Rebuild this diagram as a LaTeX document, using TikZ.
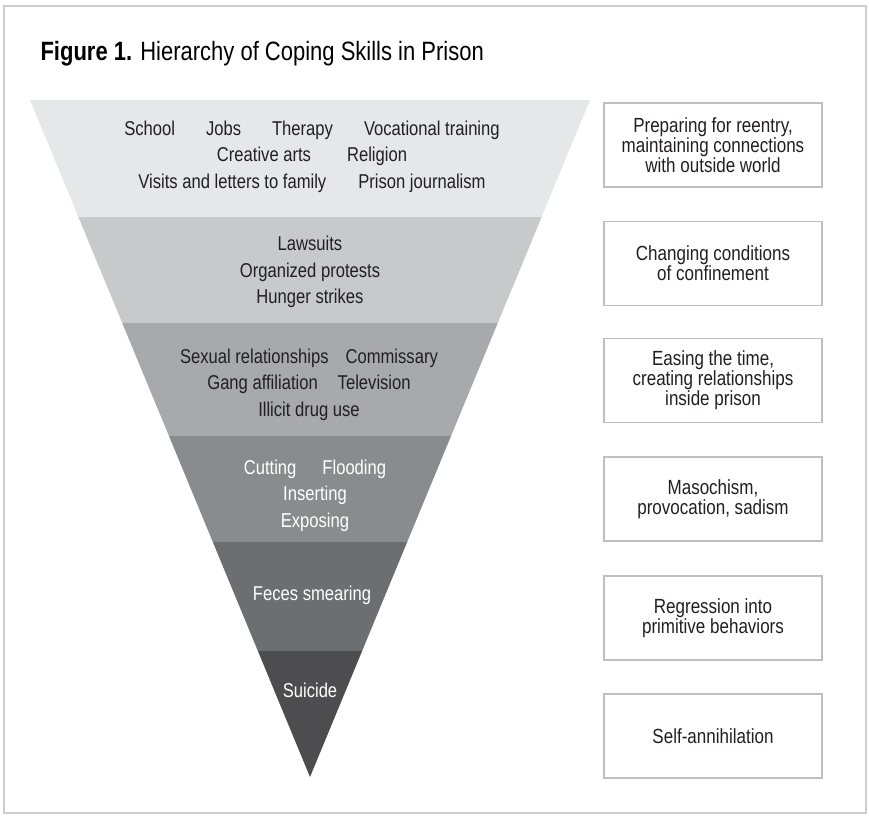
\documentclass[tikz,border=0pt]{standalone}
\usepackage{fontspec}
\setmainfont{Liberation Sans}[FakeStretch=0.83]
\definecolor{ink}{RGB}{35,31,32}
\definecolor{frame}{RGB}{205,206,207}
\definecolor{boxline}{RGB}{190,191,192}
\definecolor{bandA}{RGB}{230,231,232}
\definecolor{bandB}{RGB}{200,201,203}
\definecolor{bandC}{RGB}{167,169,172}
\definecolor{bandD}{RGB}{138,139,142}
\definecolor{bandE}{RGB}{109,110,113}
\definecolor{bandF}{RGB}{77,77,79}
\newcommand\gp[1]{\hspace{#1pt}}
\begin{document}
\begin{tikzpicture}[x=1pt,y=-1pt,
    lbl/.style={anchor=base,align=center,font=\fontsize{20}{26.5}\selectfont,text=ink},
    lblw/.style={lbl,text=white},
    reason/.style={draw=boxline,line width=1.8pt,minimum width=218pt,minimum height=84pt,
        align=center,inner sep=0pt,font=\fontsize{20.5}{20}\selectfont,text=ink}]
    \useasboundingbox (0,0) rectangle (869,816);
    \draw[frame, line width=1.5pt] (4,6) rectangle (866,813);
    \node[anchor=base west, font=\fontsize{26.5}{30}\selectfont, text=black] (title) at (37,60)
        {\textbf{Figure 1.} Hierarchy of Coping Skills in Prison};
    \begin{scope}
        \clip (30,100) -- (590,100) -- (310,777) -- cycle;
        \fill[bandA] (0,100) rectangle (869,217);
        \fill[bandB] (0,217) rectangle (869,323);
        \fill[bandC] (0,323) rectangle (869,436);
        \fill[bandD] (0,436) rectangle (869,542);
        \fill[bandE] (0,542) rectangle (869,651);
        \fill[bandF] (0,651) rectangle (869,777);
    \end{scope}
    \node[lbl] (reentry) at (312,188)
        {School\gp{31}Jobs\gp{31}Therapy\gp{31}Vocational training\\
         Creative arts\gp{36}Religion\\
         Visits and letters to family\gp{32}Prison journalism};
    \node[lbl] (protest) at (310,303.5) {Lawsuits\\Organized protests\\Hunger strikes};
    \node[lbl] (easing) at (309,416)
        {Sexual relationships\gp{17}Commissary\\Gang affiliation\gp{20}Television\\Illicit drug use};
    \node[lblw] (harm) at (315,527) {Cutting\gp{26}Flooding\\Inserting\\Exposing};
    \node[lblw] (feces) at (312,600) {Feces smearing};
    \node[lblw] (suicide) at (310,697) {Suicide};
    \node[reason] (r1) at (713,145) {Preparing for reentry,\\maintaining connections\\with outside world};
    \node[reason] (r2) at (713,263.5) {Changing conditions\\of confinement};
    \node[reason] (r3) at (713,380.5) {Easing the time,\\creating relationships\\inside prison};
    \node[reason] (r4) at (713,499) {Masochism,\\provocation, sadism};
    \node[reason] (r5) at (713,618) {Regression into\\primitive behaviors};
    \node[reason] (r6) at (713,736) {Self-annihilation};
\end{tikzpicture}
\end{document}
